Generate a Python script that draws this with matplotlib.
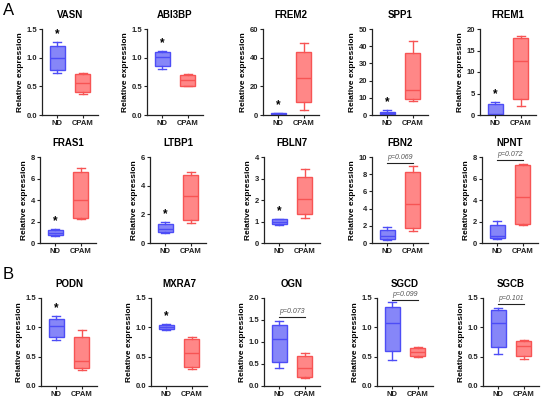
import matplotlib
matplotlib.use("Agg")
import matplotlib.pyplot as plt
import numpy as np

plt.rcParams["font.family"] = ["Liberation Sans", "DejaVu Sans"]
plt.rcParams["font.weight"] = "bold"

# ── Data (min, q1, median, q3, max) ──────────────────────────────────────────

genes = ["VASN", "ABI3BP", "FREM2", "SPP1", "FREM1",
         "FRAS1", "LTBP1", "FBLN7", "FBN2", "NPNT",
         "PODN", "MXRA7", "OGN", "SGCD", "SGCB"]

nd_stats = [
    (0.73, 0.78, 1.00, 1.21, 1.27),
    (0.81, 0.86, 1.02, 1.10, 1.12),
    (0.5, 0.6, 1.0, 1.3, 1.6),
    (0.2, 0.4, 1.0, 1.9, 2.7),
    (0.05, 0.1, 0.15, 2.5, 3.1),
    (0.62, 0.72, 0.97, 1.25, 1.28),
    (0.70, 0.77, 0.96, 1.31, 1.48),
    (0.84, 0.87, 1.00, 1.11, 1.12),
    (0.35, 0.47, 0.86, 1.56, 1.91),
    (0.38, 0.47, 0.63, 1.72, 2.03),
    (0.78, 0.84, 1.02, 1.14, 1.19),
    (0.95, 0.97, 1.00, 1.04, 1.055),
    (0.40, 0.55, 1.07, 1.39, 1.47),
    (0.445, 0.60, 1.08, 1.35, 1.43),
    (0.55, 0.66, 1.07, 1.29, 1.33),
]

cpam_stats = [
    (0.36, 0.40, 0.55, 0.71, 0.74),
    (0.50, 0.51, 0.61, 0.70, 0.72),
    (3.7, 8.9, 25.5, 44.0, 50.0),
    (8.4, 9.5, 14.4, 36.0, 43.0),
    (2.1, 3.8, 12.45, 17.9, 18.4),
    (2.25, 2.28, 3.97, 6.56, 7.0),
    (1.43, 1.62, 3.28, 4.75, 4.92),
    (1.14, 1.36, 2.05, 3.09, 3.44),
    (1.37, 1.80, 4.53, 8.24, 8.95),
    (1.72, 1.75, 4.31, 7.22, 7.34),
    (0.27, 0.31, 0.43, 0.83, 0.96),
    (0.29, 0.33, 0.57, 0.80, 0.84),
    (0.18, 0.21, 0.42, 0.68, 0.745),
    (0.50, 0.51, 0.58, 0.64, 0.67),
    (0.46, 0.51, 0.68, 0.76, 0.78),
]

y_max = [1.5, 1.5, 60, 50, 20, 8, 6, 4, 10, 8, 1.5, 1.5, 2.0, 1.5, 1.5]
y_step = [0.5, 0.5, 20, 10, 5, 2, 2, 1, 2, 2, 0.5, 0.5, 0.5, 0.5, 0.5]
star = [True, True, True, True, True, True, True, True, False, False,
        True, True, False, False, False]
p_text = {"FBN2": ("p=0.069", 9.3), "NPNT": ("p=0.072", 7.75),
          "OGN": ("p=0.073", 1.56), "SGCD": ("p=0.099", 1.47),
          "SGCB": ("p=0.101", 1.39)}
groups = ["ND", "CPAM"]

# ── Layout (pixel coords of each axes: left x, top y, bottom y) ─────────────

row_lefts = [[42, 147, 263, 372, 480],
             [40, 150, 264, 372, 482],
             [41, 151, 264, 377, 483]]
row_tb = [(29, 115), (157, 243), (298, 386)]
AX_W = 56
W, H = 550, 400

ND_FACE, ND_EDGE = "#8686f8", "#4d4df6"
CP_FACE, CP_EDGE = "#ff8787", "#f75454"

fig = plt.figure(figsize=(5.5, 4), dpi=100)


def fmt_tick(v, step):
    return f"{v:.1f}" if step < 1 else f"{int(round(v))}"


for i, gene in enumerate(genes):
    r, c = divmod(i, 5)
    left = row_lefts[r][c]
    top, bot = row_tb[r]
    ax = fig.add_axes([left / W, 1 - bot / H, AX_W / W, (bot - top) / H])

    stats = []
    for s in (nd_stats[i], cpam_stats[i]):
        lo, q1, med, q3, hi = s
        stats.append(dict(whislo=lo, q1=q1, med=med, q3=q3, whishi=hi, fliers=[]))
    bp = ax.bxp(stats, positions=[0, 1], widths=0.6, patch_artist=True,
                showfliers=False, capwidths=0.3)
    for k, (fc, ec) in enumerate([(ND_FACE, ND_EDGE), (CP_FACE, CP_EDGE)]):
        bp["boxes"][k].set(facecolor=fc, edgecolor=ec, linewidth=1.0)
        bp["medians"][k].set(color=ec, linewidth=1.0)
        for ln in bp["whiskers"][2 * k:2 * k + 2] + bp["caps"][2 * k:2 * k + 2]:
            ln.set(color=ec, linewidth=1.0)

    ax.set_xlim(-0.6, 1.6)
    ax.set_ylim(0, y_max[i])
    ticks = np.arange(0, y_max[i] + y_step[i] / 2, y_step[i])
    ax.set_yticks(ticks)
    ax.set_yticklabels([fmt_tick(t, y_step[i]) for t in ticks])
    ax.set_xticks([0, 1])
    ax.set_xticklabels(groups)
    ax.tick_params(labelsize=5.5, length=2, width=0.8, pad=1.5, colors="#222222")
    for lab in ax.get_xticklabels() + ax.get_yticklabels():
        lab.set_fontweight("bold")
    for side in ("top", "right"):
        ax.spines[side].set_visible(False)
    for side in ("left", "bottom"):
        ax.spines[side].set_linewidth(0.9)
        ax.spines[side].set_color("#222222")
    ax.set_ylabel("Relative expression", fontsize=6, fontweight="bold", labelpad=2)
    ax.set_title(gene, fontsize=7, fontweight="bold", pad=8)

    if star[i]:
        ax.text(0, nd_stats[i][4] + y_max[i] * 0.02, "*", ha="center",
                va="bottom", fontsize=8.5, fontweight="bold")
    if gene in p_text:
        txt, yb = p_text[gene]
        ax.plot([0, 1], [yb, yb], color="#222222", linewidth=0.8, clip_on=False)
        ax.text(0.5, yb + y_max[i] * 0.025, txt, ha="center", va="bottom",
                fontsize=5, style="italic", fontweight="normal", color="#555555")

fig.text(3 / W, 1 - 3 / H, "A", fontsize=12, fontweight="normal", va="top")
fig.text(3 / W, 1 - 267 / H, "B", fontsize=12, fontweight="normal", va="top")

fig.savefig("out.png", dpi=100)
